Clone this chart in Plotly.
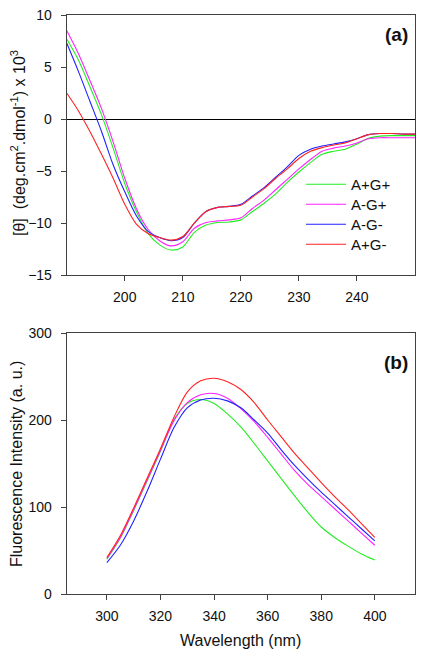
import plotly.graph_objects as go

# ---------------- Data ----------------
cd_wavelength = [190, 192, 194, 196, 198, 200, 202, 204, 206, 208, 210, 212, 214, 216, 218, 220,
                 222, 224, 226, 228, 230, 232, 234, 236, 238, 240, 242, 244, 246, 248, 250]
cd_ApGp = [7.7, 5.7, 3.1, 0.4, -2.8, -6.2, -8.9, -11.0, -12.1, -12.6, -12.3, -10.9, -10.2, -9.95, -9.9, -9.7,
           -8.9, -8.1, -7.2, -6.1, -5.1, -4.2, -3.4, -3.1, -2.9, -2.4, -1.85, -1.65, -1.6, -1.6, -1.6]
cd_AmGp = [8.5, 6.3, 3.7, 1.0, -2.2, -5.7, -8.6, -10.6, -11.7, -12.2, -11.8, -10.5, -9.95, -9.8, -9.7, -9.5,
           -8.6, -7.8, -6.8, -5.8, -4.8, -3.9, -3.1, -2.8, -2.6, -2.3, -1.9, -1.8, -1.8, -1.8, -1.8]
cd_AmGm = [7.3, 4.6, 1.7, -1.2, -4.4, -7.0, -9.3, -10.8, -11.4, -11.7, -11.4, -10.0, -8.9, -8.5, -8.4, -8.2,
           -7.4, -6.6, -5.6, -4.6, -3.5, -2.9, -2.6, -2.4, -2.2, -1.9, -1.5, -1.4, -1.4, -1.45, -1.45]
cd_ApGm = [2.5, 0.8, -1.2, -3.4, -5.7, -8.2, -10.1, -11.0, -11.4, -11.65, -11.3, -10.0, -8.9, -8.5, -8.4, -8.3,
           -7.5, -6.7, -5.7, -4.8, -3.8, -3.1, -2.75, -2.5, -2.3, -1.9, -1.5, -1.4, -1.4, -1.45, -1.45]

fl_wavelength = [300, 305, 310, 315, 320, 325, 330, 335, 340, 345, 350, 355, 360, 365, 370, 375, 380, 385, 390, 395, 400]
fl_ApGp = [40, 64, 96, 130, 164, 200, 219, 223.5, 219, 207, 192, 173, 153, 133, 113, 94, 77, 65, 55, 46, 39]
fl_AmGp = [41, 65, 97, 131, 165, 199, 220, 229, 230.5, 225, 213, 198, 180, 161, 142, 126, 112, 98, 84, 70, 56]
fl_AmGm = [36, 56, 84, 118, 155, 191, 214, 223, 225, 222, 214, 200, 185, 166, 148, 132, 117, 103, 89, 75, 61]
fl_ApGm = [42, 67, 99, 133, 167, 203, 232, 245, 248, 244, 235, 220, 200, 181, 162, 145, 128, 112, 97, 81, 65]

series_names = ["A+G+", "A-G+", "A-G-", "A+G-"]
series_colors = ["#22EE22", "#FF22FF", "#2222FF", "#FF2222"]

cd_x_ticks = [200, 210, 220, 230, 240]
cd_y_ticks = [-15, -10, -5, 0, 5, 10]
fl_x_ticks = [300, 320, 340, 360, 380, 400]
fl_y_ticks = [0, 100, 200, 300]

# ---------------- Figure ----------------
# page has an 8px body margin: figure is 416x650, page coords shifted by 8
OFF = 8
W, H = 416, 650
FONT = "Liberation Sans, Arial, sans-serif"
TXT = "#111111"


def px(xp):
    return (xp - OFF) / W


def py(yp):
    return 1 - (yp - OFF) / H


fig = go.Figure()

cd_series = [cd_ApGp, cd_AmGp, cd_AmGm, cd_ApGm]
fl_series = [fl_ApGp, fl_AmGp, fl_AmGm, fl_ApGm]
legend_ids = ["legend", "legend2", "legend3", "legend4"]

for name, col, ys, lg in zip(series_names, series_colors, cd_series, legend_ids):
    fig.add_trace(go.Scatter(x=cd_wavelength, y=ys, mode="lines", name=name,
                             line=dict(color=col, width=1.1, shape="spline", smoothing=0.8),
                             xaxis="x", yaxis="y", showlegend=True, legend=lg))
for name, col, ys in zip(series_names, series_colors, fl_series):
    fig.add_trace(go.Scatter(x=fl_wavelength, y=ys, mode="lines", name=name,
                             line=dict(color=col, width=1.1, shape="spline", smoothing=0.8),
                             xaxis="x2", yaxis="y2", showlegend=False))

x_dom = [px(66.7), px(415)]
a_dom = [py(275), py(15)]
b_dom = [py(594), py(333)]

axis_common = dict(showline=True, linecolor="#404040", linewidth=1, mirror=True,
                   ticks="outside", ticklen=5, tickwidth=1, tickcolor="#404040",
                   showgrid=False, automargin=False, ticklabeloverflow="allow",
                   tickfont=dict(family=FONT, size=14, color=TXT))

legend_style = dict(xanchor="left", yanchor="top", bgcolor="rgba(0,0,0,0)", borderwidth=0,
                    font=dict(family=FONT, size=15, color=TXT), itemwidth=40)

fig.update_layout(
    template="none",
    width=W, height=H,
    margin=dict(l=0, r=0, t=0, b=0),
    paper_bgcolor="white", plot_bgcolor="white",
    font=dict(family=FONT, size=14, color=TXT),
    xaxis=dict(domain=x_dom, anchor="y", range=[190, 250], tickvals=cd_x_ticks,
               zeroline=False, ticklabelstandoff=4, **axis_common),
    yaxis=dict(domain=a_dom, anchor="x", range=[-15, 10], tickvals=cd_y_ticks,
               zeroline=True, zerolinecolor="black", zerolinewidth=1,
               ticklabelstandoff=6, **axis_common),
    xaxis2=dict(domain=x_dom, anchor="y2", range=[285, 415], tickvals=fl_x_ticks,
                zeroline=False, ticklabelstandoff=4, **axis_common),
    yaxis2=dict(domain=b_dom, anchor="x2", range=[0, 300], tickvals=fl_y_ticks,
                zeroline=False, ticklabelstandoff=6, **axis_common),
    legend=dict(x=px(301), y=py(168), **legend_style),
    legend2=dict(x=px(301), y=py(188), **legend_style),
    legend3=dict(x=px(301), y=py(208), **legend_style),
    legend4=dict(x=px(301), y=py(228), **legend_style),
    showlegend=True,
)

annotations = [
    dict(text="<b>(a)</b>", x=px(396), y=py(35), xref="paper", yref="paper",
         xanchor="center", yanchor="middle",
         showarrow=False, font=dict(family=FONT, size=19, color=TXT)),
    dict(text="<b>(b)</b>", x=px(396), y=py(362), xref="paper", yref="paper",
         xanchor="center", yanchor="middle",
         showarrow=False, font=dict(family=FONT, size=19, color=TXT)),
    dict(text="[θ]  (deg.cm<sup>2</sup>.dmol<sup>-1</sup>) x 10<sup>3</sup>",
         x=px(18), y=py(143), xref="paper", yref="paper", textangle=-90,
         xanchor="center", yanchor="middle",
         showarrow=False, font=dict(family=FONT, size=16, color=TXT)),
    dict(text="Fluorescence Intensity (a. u.)",
         x=px(16), y=py(464), xref="paper", yref="paper", textangle=-90,
         xanchor="center", yanchor="middle",
         showarrow=False, font=dict(family=FONT, size=16, color=TXT)),
    dict(text="Wavelength (nm)", x=px(240), y=py(640), xref="paper", yref="paper",
         xanchor="center", yanchor="middle",
         showarrow=False, font=dict(family=FONT, size=16, color=TXT)),
]
fig.update_layout(annotations=annotations)

fig.write_html("out.html")
